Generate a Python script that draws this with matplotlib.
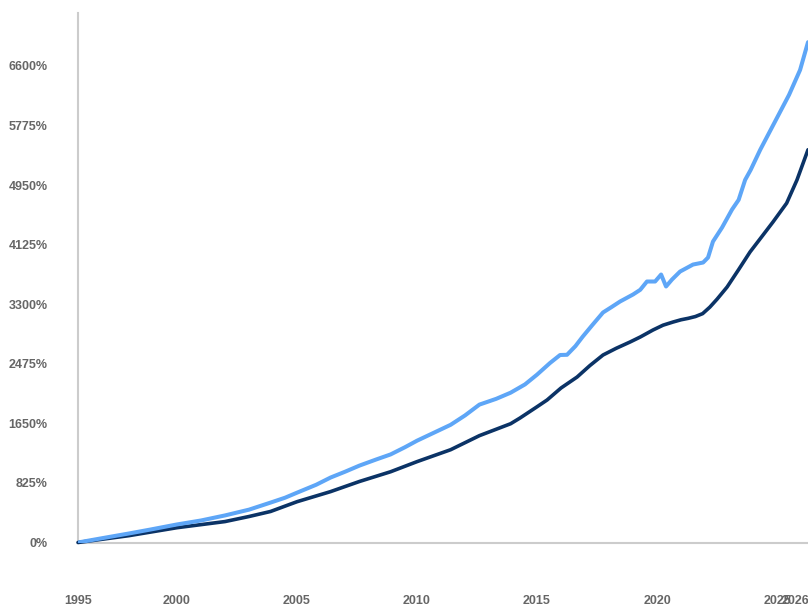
import matplotlib
matplotlib.use("Agg")
import matplotlib.pyplot as plt
from matplotlib.transforms import ScaledTranslation

# Light blue series (decimal year, % growth)
light_x = [1995.875, 1996.8, 1998.0, 1998.9, 2000.0, 2001.0, 2002.0, 2003.0, 2003.9, 2004.5,
           2005.0, 2005.8, 2006.4, 2007.0, 2007.6, 2008.3, 2008.9, 2009.5, 2010.0, 2010.7,
           2011.4, 2012.0, 2012.6, 2013.3, 2013.9, 2014.5, 2015.0, 2015.54, 2015.96, 2016.25,
           2016.6, 2016.9, 2017.3, 2017.75, 2018.1, 2018.46, 2019.0, 2019.3, 2019.58, 2019.92,
           2020.17, 2020.375, 2020.625, 2020.96, 2021.5, 2021.92, 2022.125, 2022.33, 2022.71, 2023.125,
           2023.4, 2023.67, 2023.9, 2024.3, 2024.9, 2025.5, 2025.96, 2026.29]
light_y = [0, 55, 125, 180, 250, 305, 375, 455, 553, 620,
           690, 800, 900, 980, 1065, 1150, 1220, 1320, 1410, 1520,
           1630, 1760, 1910, 1990, 2075, 2190, 2325, 2486, 2597, 2600,
           2720, 2850, 3010, 3186, 3260, 3338, 3435, 3500, 3615, 3615,
           3712, 3546, 3643, 3753, 3850, 3878, 3947, 4168, 4363, 4612,
           4746, 5022, 5160, 5440, 5820, 6200, 6545, 6930]

# Dark navy series
dark_x = [1995.875, 1998.0, 2000.0, 2002.0, 2003.0, 2003.9, 2005.0, 2006.4, 2007.6, 2008.9,
          2010.0, 2011.4, 2012.6, 2013.9, 2014.29, 2015.0, 2015.42, 2016.0, 2016.67, 2017.2,
          2017.75, 2018.3, 2018.875, 2019.3, 2019.83, 2020.25, 2020.67, 2021.0, 2021.3, 2021.6,
          2021.9, 2022.2, 2022.5, 2022.92, 2023.4, 2023.875, 2024.35, 2024.83, 2025.4, 2025.83,
          2026.29]
dark_y = [0, 95, 205, 290, 360, 430, 565, 705, 845, 980,
          1120, 1285, 1480, 1645, 1724, 1880, 1974, 2140, 2292, 2450,
          2597, 2690, 2777, 2846, 2943, 3010, 3054, 3085, 3105, 3130,
          3170, 3260, 3370, 3539, 3780, 4024, 4230, 4439, 4700, 5021,
          5440]

tick_pos = [1995.875, 2000, 2005, 2010, 2015, 2020, 2025, 2026]
tick_labels = ["1995", "2000", "2005", "2010", "2015", "2020", "2025", "2026"]
y_ticks = [0, 825, 1650, 2475, 3300, 4125, 4950, 5775, 6600]

W, H = 808, 605
fig = plt.figure(figsize=(W / 100, H / 100), dpi=100)
ax = fig.add_axes([78 / W, (H - 542.5) / H, (W - 78) / W, (542.5 - 13) / H])

ax.plot(dark_x, dark_y, color="#0b3366", lw=2.6, solid_capstyle="round", zorder=3, clip_on=False)
ax.plot(light_x, light_y, color="#5ea6f7", lw=2.9, solid_capstyle="round", zorder=4, clip_on=True)

ax.set_xlim(1995.875, 2026.29)
ax.set_ylim(0, 7334)

for s in ["top", "right"]:
    ax.spines[s].set_visible(False)
for s in ["left", "bottom"]:
    ax.spines[s].set_color("#cccccc")
    ax.spines[s].set_linewidth(1.5)

ax.set_xticks(tick_pos)
ax.set_xticklabels(tick_labels)
ax.set_yticks(y_ticks)
ax.set_yticklabels([f"{v}%" for v in y_ticks])
ax.tick_params(axis="both", length=0, labelcolor="#666666", labelsize=9)
ax.tick_params(axis="x", pad=37.5)
ax.tick_params(axis="y", pad=22)
for lab in ax.get_xticklabels() + ax.get_yticklabels():
    lab.set_fontfamily("Liberation Sans")
    lab.set_fontweight("bold")

# keep the last x label inside the figure, as in the reference
last = ax.get_xticklabels()[-1]
last.set_transform(last.get_transform() + ScaledTranslation(-6 / 100, 0, fig.dpi_scale_trans))

fig.savefig("out.png", dpi=100)
